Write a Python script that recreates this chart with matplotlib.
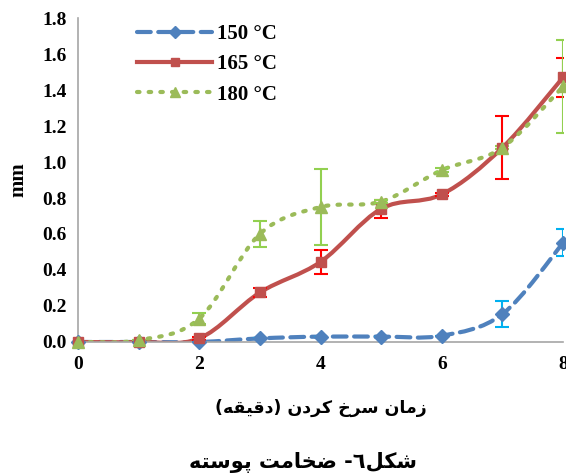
import numpy as np
import matplotlib
matplotlib.use('Agg')
import matplotlib.pyplot as plt
from matplotlib.path import Path
from matplotlib.patches import PathPatch
from matplotlib.lines import Line2D

# Data
minutes = [0, 1, 2, 3, 4, 5, 6, 7, 8]
t150 = [0.0, 0.0, 0.0, 0.02, 0.03, 0.03, 0.035, 0.155, 0.55]
t165 = [0.0, 0.0, 0.02, 0.275, 0.445, 0.74, 0.82, 1.08, 1.47]
t180 = [0.0, 0.01, 0.13, 0.60, 0.75, 0.78, 0.955, 1.08, 1.42]
err150 = [0, 0, 0, 0, 0, 0, 0, 0.07, 0.075]
err165 = [0, 0, 0.01, 0.025, 0.065, 0.05, 0.01, 0.175, 0.11]
err180 = [0, 0, 0.03, 0.07, 0.21, 0.01, 0.01, 0.01, 0.26]
labels = ['150 °C', '165 °C', '180 °C']
yticks = [0.0, 0.2, 0.4, 0.6, 0.8, 1.0, 1.2, 1.4, 1.6, 1.8]
xticks = [0, 2, 4, 6, 8]

# Persian labels: pre-shaped presentation forms in visual (left to right) order
xlabel = ('(\uFEEA\uFED8\uFEF4\uFED7\uFEA9) \uFEE5\uFEA9\uFEAE\uFB90 '
          '\uFEA5\uFEAE\uFEB3 \uFEE5\uFE8E\uFEE3\uFEAF')
caption = ('\uFEEA\uFE98\uFEB3\uFEEE\uFB58 \uFE96\uFEE3\uFE8E\uFEA8\uFEBF '
           '-\u0666\uFEDE\uFB91\uFEB7')

serif = 'Liberation Serif'
arabic = ['DejaVu Sans']


def smooth_path(x, y):
    # Excel style smoothed line: cubic bezier through every point
    pts = np.column_stack([x, y]).astype(float)
    verts = [pts[0]]
    codes = [Path.MOVETO]
    n = len(pts)
    for i in range(n - 1):
        p0 = pts[max(i - 1, 0)]
        p1 = pts[i]
        p2 = pts[i + 1]
        p3 = pts[min(i + 2, n - 1)]
        verts += [p1 + (p2 - p0) / 6, p2 - (p3 - p1) / 6, p2]
        codes += [Path.CURVE4] * 3
    return Path(verts, codes)


fig = plt.figure(figsize=(5.66, 4.74), dpi=100)
ax = fig.add_axes([0.1378, 0.2785, 0.857, 0.6835])

series = [
    (t150, err150, '#4F81BD', '#00B0F0', 'D', 7.5, (0, (3.3, 1.8)), 3.0),
    (t165, err165, '#C0504D', '#FF0000', 's', 7.5, '-', 3.0),
    (t180, err180, '#9BBB59', '#92D050', '^', 8.5, (0, (0.6, 2.2)), 3.0),
]

handles = []
for (vals, errs, col, ecol, mk, ms, ls, lw), lab in zip(series, labels):
    patch = PathPatch(smooth_path(minutes, vals), facecolor='none', edgecolor=col,
                      linestyle=ls, linewidth=lw, capstyle='round', zorder=2)
    ax.add_patch(patch)
    ax.errorbar(minutes, vals, yerr=errs, fmt='none', ecolor=ecol, elinewidth=1.5,
                capsize=5, capthick=1.5, zorder=3)
    ax.plot(minutes, vals, linestyle='none', marker=mk, markersize=ms,
            color=col, zorder=4, clip_on=False)
    handles.append(Line2D([], [], color=col, linestyle=ls, linewidth=lw,
                          marker=mk, markersize=ms - 1.5, dash_capstyle='round'))

ax.set_xlim(0, 8)
ax.set_ylim(0, 1.8)
ax.set_xticks(xticks)
ax.set_yticks(yticks)
ax.set_xticklabels([str(v) for v in xticks], fontfamily=serif, fontweight='bold', fontsize=14)
ax.set_yticklabels(['%.1f' % v for v in yticks], fontfamily=serif, fontweight='bold', fontsize=14)
ax.tick_params(axis='x', length=0, pad=10)
ax.tick_params(axis='y', length=0, pad=8)

for s in ['top', 'right']:
    ax.spines[s].set_visible(False)
for s in ['left', 'bottom']:
    ax.spines[s].set_color('#A6A6A6')
    ax.spines[s].set_linewidth(1.2)

ax.set_ylabel('mm', fontfamily=serif, fontweight='bold', fontsize=15, labelpad=10)

leg = ax.legend(handles, labels, loc='upper left', bbox_to_anchor=(0.083, 1.04),
                frameon=False, handlelength=3.6, labelspacing=0.5, handletextpad=0.25,
                prop={'family': serif, 'weight': 'bold', 'size': 15})

fig.text(0.567, 0.139, xlabel, ha='center', va='center', family=arabic,
         fontweight='bold', fontsize=12.5)
fig.text(0.535, 0.025, caption, ha='center', va='center', family=arabic,
         fontweight='bold', fontsize=15)

plt.savefig('out.png', dpi=100)
